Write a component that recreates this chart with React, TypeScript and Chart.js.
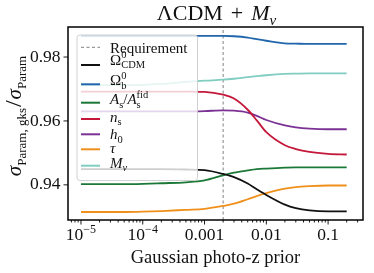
import { useEffect, useRef } from 'react';
import { Chart, registerables } from 'chart.js';

Chart.register(...registerables);

// ---------- data ----------
const priors = [1e-5, 2e-5, 5e-5, 1e-4, 2e-4, 5e-4, 1e-3, 2e-3, 3e-3, 5e-3, 7e-3, 1e-2, 2e-2, 3e-2, 5e-2, 0.1, 0.2];
const omegaCDM = [0.9449, 0.9449, 0.9449, 0.9449, 0.9449, 0.9448, 0.9446, 0.9434, 0.9424, 0.9404, 0.9386, 0.9368, 0.9338, 0.9327, 0.932, 0.9317, 0.9317];
const omegaB = [0.9866, 0.9866, 0.9866, 0.9866, 0.9866, 0.9866, 0.9866, 0.9866, 0.9865, 0.9861, 0.9856, 0.9851, 0.9843, 0.9842, 0.9841, 0.9841, 0.9841];
const asRatio = [0.9402, 0.9402, 0.9402, 0.9403, 0.9405, 0.9408, 0.9414, 0.943, 0.9438, 0.9445, 0.9449, 0.9451, 0.9454, 0.9455, 0.9455, 0.9455, 0.9455];
const nS = [0.9692, 0.9692, 0.9692, 0.9692, 0.9692, 0.9692, 0.9691, 0.9682, 0.967, 0.9635, 0.9602, 0.9565, 0.9524, 0.9512, 0.9503, 0.9497, 0.9495];
const h0 = [0.963, 0.963, 0.963, 0.963, 0.963, 0.963, 0.9631, 0.9633, 0.9632, 0.9626, 0.9616, 0.9603, 0.9586, 0.958, 0.9576, 0.9574, 0.9574];
const tau = [0.9315, 0.9315, 0.9315, 0.9316, 0.9318, 0.9322, 0.9325, 0.9334, 0.9341, 0.9355, 0.9365, 0.9374, 0.9388, 0.9393, 0.9396, 0.9398, 0.9398];
const mNu = [0.9712, 0.9712, 0.9712, 0.9713, 0.9716, 0.9722, 0.9726, 0.9729, 0.9732, 0.9737, 0.974, 0.9743, 0.9747, 0.9748, 0.9749, 0.9749, 0.9749];
const requirement = 0.002;

const yTicks = [0.94, 0.96, 0.98];
const xTickValues = [1e-5, 1e-4, 1e-3, 1e-2, 0.1];
const xTickLabels: [string, string][] = [['10', '−5'], ['10', '−4'], ['0.001', ''], ['0.01', ''], ['0.1', '']];

type Tok = { t: string; it?: boolean; sub?: string; sup?: string; subIt?: boolean; size?: number; gap?: number };

const titleText: Tok[] = [{ t: 'ΛCDM', gap: 8 }, { t: '+', gap: 8 }, { t: 'M', it: true, sub: 'ν', subIt: true }];
const xTitle: Tok[] = [{ t: 'Gaussian photo-z prior' }];
const yTitle: Tok[] = [
  { t: 'σ', it: true, sub: 'Param, gks', gap: 1 },
  { t: '/', size: 24, gap: 1 },
  { t: 'σ', it: true, sub: 'Param' },
];

const series: { label: Tok[]; color: string; values: number[] }[] = [
  { label: [{ t: 'Ω', sup: '0', sub: 'CDM' }], color: '#111111', values: omegaCDM },
  { label: [{ t: 'Ω', sup: '0', sub: 'b' }], color: '#2166ac', values: omegaB },
  { label: [{ t: 'A', it: true, sub: 's' }, { t: '/' }, { t: 'A', it: true, sup: 'fid', sub: 's' }], color: '#1b7837', values: asRatio },
  { label: [{ t: 'n', it: true, sub: 's' }], color: '#c4173a', values: nS },
  { label: [{ t: 'h', it: true, sub: '0' }], color: '#7b3294', values: h0 },
  { label: [{ t: 'τ', it: true }], color: '#f0901c', values: tau },
  { label: [{ t: 'M', it: true, sub: 'ν', subIt: true }], color: '#80cdc1', values: mNu },
];
const requirementLabel: Tok[] = [{ t: 'Requirement' }];

// ---------- layout ----------
const FAM = '"Liberation Serif", "Times New Roman", serif';
const font = (s: number, it?: boolean) => `${it ? 'italic ' : ''}${s}px ${FAM}`;

function drawRich(ctx: CanvasRenderingContext2D, toks: Tok[], x: number, y: number, F: number, sF: number, draw = true): number {
  let cx = x;
  for (const k of toks) {
    const fs = k.size ?? F;
    ctx.font = font(fs, k.it);
    if (draw) ctx.fillText(k.t, cx, y);
    cx += ctx.measureText(k.t).width;
    let w = 0;
    if (k.sup) {
      ctx.font = font(sF);
      if (draw) ctx.fillText(k.sup, cx, y - F * 0.42);
      w = Math.max(w, ctx.measureText(k.sup).width);
    }
    if (k.sub) {
      ctx.font = font(sF, k.subIt);
      if (draw) ctx.fillText(k.sub, cx, y + F * 0.24);
      w = Math.max(w, ctx.measureText(k.sub).width);
    }
    cx += w + (k.gap ?? 0);
  }
  return cx - x;
}

const legendLineY = [47.3, 65, 84.3, 102.7, 119, 134.3, 149.3, 165.7];
const legendBaseY = [52.7, 64.5, 85, 104, 121.5, 139, 152.5, 167.5];

const decor = {
  id: 'decor',
  afterDatasetsDraw(chart: any) {
    const ctx: CanvasRenderingContext2D = chart.ctx;
    const { left, right, top, bottom } = chart.chartArea;
    const xs = chart.scales.x;
    const ys = chart.scales.y;
    ctx.save();
    ctx.textBaseline = 'alphabetic';
    ctx.fillStyle = '#000';

    // legend
    ctx.beginPath();
    ctx.roundRect(77, 35, 120.5, 145.5, 3);
    ctx.fillStyle = 'rgba(255,255,255,0.8)';
    ctx.fill();
    ctx.strokeStyle = 'rgba(204,204,204,0.9)';
    ctx.lineWidth = 1;
    ctx.stroke();
    const rows = [{ label: requirementLabel, color: '#808080', dash: true }, ...series.map((s) => ({ ...s, dash: false }))];
    rows.forEach((r, i) => {
      ctx.beginPath();
      ctx.strokeStyle = r.color;
      ctx.lineWidth = r.dash ? 1 : 2;
      ctx.setLineDash(r.dash ? [3, 2.5] : []);
      ctx.moveTo(81, legendLineY[i]);
      ctx.lineTo(100, legendLineY[i]);
      ctx.stroke();
      ctx.setLineDash([]);
      ctx.fillStyle = '#111';
      ctx.textAlign = 'left';
      drawRich(ctx, r.label, 110, legendBaseY[i], 15, 10.5);
    });

    // frame
    ctx.strokeStyle = '#000';
    ctx.lineWidth = 1.5;
    ctx.strokeRect(left, top, right - left, bottom - top);

    // ticks
    ctx.lineWidth = 0.9;
    ctx.beginPath();
    for (let e = -6; e <= 0; e++) {
      for (let m = 1; m <= 9; m++) {
        const v = m * Math.pow(10, e);
        if (v < xs.min || v > xs.max) continue;
        const px = xs.getPixelForValue(v);
        const len = m === 1 ? 4.5 : 2.5;
        ctx.moveTo(px, bottom);
        ctx.lineTo(px, bottom + len);
      }
    }
    for (const v of yTicks) {
      const py = ys.getPixelForValue(v);
      ctx.moveTo(left, py);
      ctx.lineTo(left - 4.5, py);
    }
    ctx.stroke();

    // x tick labels
    ctx.fillStyle = '#111';
    xTickValues.forEach((v, i) => {
      const [b, sp] = xTickLabels[i];
      const toks: Tok[] = [{ t: b, sup: sp || undefined }];
      const w = drawRich(ctx, toks, 0, 0, 17.5, 12, false);
      drawRich(ctx, toks, xs.getPixelForValue(v) - w / 2, 240, 17.5, 12);
    });

    // x title
    {
      const w = drawRich(ctx, xTitle, 0, 0, 18.5, 13, false);
      drawRich(ctx, xTitle, (left + right) / 2 - w / 2, 262.5, 18.5, 13);
    }
    // title
    {
      const w = drawRich(ctx, titleText, 0, 0, 22, 15, false);
      drawRich(ctx, titleText, (left + right) / 2 + 1 - w / 2, 19.5, 22, 15);
    }
    // y title
    {
      ctx.translate(21, 116);
      ctx.rotate(-Math.PI / 2);
      const w = drawRich(ctx, yTitle, 0, 0, 21, 13, false);
      drawRich(ctx, yTitle, -w / 2, 0, 21, 13);
    }
    ctx.restore();
  },
};

export default function App() {
  const ref = useRef<HTMLCanvasElement>(null);
  useEffect(() => {
    document.body.style.margin = '0';
    const canvas = ref.current!;
    const datasets: any[] = series.map((s) => ({
      data: priors.map((x, i) => ({ x, y: s.values[i] })),
      borderColor: s.color,
      borderWidth: 1.8,
      pointRadius: 0,
      fill: false,
      cubicInterpolationMode: 'monotone',
    }));
    datasets.push({
      data: [
        { x: requirement, y: 0.929 },
        { x: requirement, y: 0.9894 },
      ],
      borderColor: '#808080',
      borderWidth: 1,
      borderDash: [3, 2.5],
      pointRadius: 0,
      fill: false,
    });
    const chart = new Chart(canvas, {
      type: 'line',
      data: { datasets },
      options: {
        animation: false,
        responsive: false,
        devicePixelRatio: 1,
        parsing: false as any,
        layout: { padding: { top: 27, right: 11, left: 0, bottom: 0 } },
        plugins: { legend: { display: false }, tooltip: { enabled: false }, title: { display: false } },
        scales: {
          x: {
            type: 'logarithmic',
            min: Math.pow(10, -5.21),
            max: Math.pow(10, -0.435),
            ticks: { display: false },
            grid: { display: false, drawTicks: false },
            border: { display: false },
            afterFit: (s: any) => {
              s.height = 53;
            },
          },
          y: {
            type: 'linear',
            min: 0.929,
            max: 0.9894,
            afterBuildTicks: (s: any) => {
              s.ticks = yTicks.map((value) => ({ value }));
            },
            ticks: {
              font: { family: FAM, size: 17.5 },
              color: '#111',
              padding: 7.5,
              callback: (v: any) => Number(v).toFixed(2),
            },
            grid: { display: false, drawTicks: false },
            border: { display: false },
            afterFit: (s: any) => {
              s.width = 68;
            },
          },
        },
      },
      plugins: [decor],
    });
    return () => chart.destroy();
  }, []);
  return <canvas ref={ref} width={374} height={273} style={{ display: 'block' }} />;
}
